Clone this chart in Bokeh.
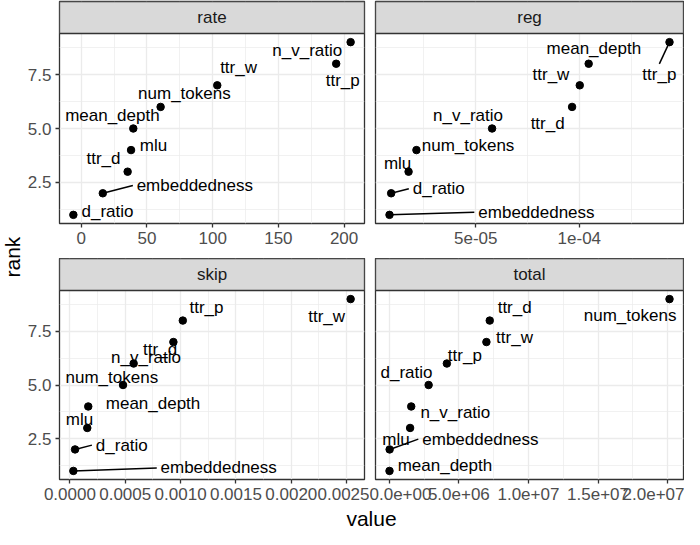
import math
from bokeh.plotting import figure
from bokeh.models import Range1d, FixedTicker
from bokeh.layouts import row, column
from bokeh.embed import file_html
from bokeh.resources import INLINE
from bokeh.core.properties import value

FONT = "Liberation Sans"

# ---------------- data (ordered by rank 1..9 in each facet) ----------------
rate_names = ["d_ratio", "embeddedness", "ttr_d", "mlu", "mean_depth",
              "num_tokens", "ttr_w", "ttr_p", "n_v_ratio"]
rate_values = [-6.0, 16.4, 35.3, 37.9, 39.6, 60.4, 103.5, 194.0, 205.0]
rate_label_x = [20.0, 86.4, 16.9, 55.0, 23.7, 78.5, 119.7, 199.0, 172.0]
rate_label_y = [1.14, 2.36, 3.62, 4.23, 5.62, 6.62, 7.83, 7.21, 8.62]
rate_segments = ["embeddedness"]

reg_names = ["embeddedness", "d_ratio", "mlu", "num_tokens", "n_v_ratio",
             "ttr_d", "ttr_w", "mean_depth", "ttr_p"]
reg_values = [0.84e-5, 0.92e-5, 1.76e-5, 2.14e-5, 5.79e-5,
              9.65e-5, 10.02e-5, 10.45e-5, 14.35e-5]
reg_label_x = [7.93e-5, 3.22e-5, 1.23e-5, 4.63e-5, 4.63e-5,
               8.47e-5, 8.63e-5, 10.7e-5, 13.86e-5]
reg_label_y = [1.12, 2.21, 3.40, 4.23, 5.62, 5.21, 7.49, 8.70, 7.49]
reg_segments = ["embeddedness", "d_ratio", "ttr_p"]

skip_names = ["embeddedness", "d_ratio", "mlu", "mean_depth", "num_tokens",
              "n_v_ratio", "ttr_d", "ttr_p", "ttr_w"]
skip_values = [0.0000314, 0.0000467, 0.000157, 0.000166, 0.00048,
               0.000576, 0.000935, 0.00102, 0.002536]
skip_label_x = [0.001344, 0.000469, 0.0000871, 0.000751, 0.000379,
                0.000688, 0.000815, 0.001234, 0.002319]
skip_label_y = [1.14, 2.20, 3.41, 4.12, 5.33, 6.27, 6.65, 8.62, 8.21]
skip_segments = ["embeddedness", "d_ratio"]

total_names = ["mean_depth", "embeddedness", "mlu", "n_v_ratio", "d_ratio",
               "ttr_p", "ttr_w", "ttr_d", "num_tokens"]
total_values = [2.0e4, 3.0e4, 1.50e6, 1.58e6, 2.83e6,
                4.14e6, 6.98e6, 7.22e6, 20.13e6]
total_label_x = [4.0e6, 6.55e6, 0.49e6, 4.75e6, 1.24e6,
                 5.43e6, 9.0e6, 9.01e6, 17.3e6]
total_label_y = [1.24, 2.48, 2.48, 3.71, 5.60, 6.39, 7.23, 8.59, 8.24]
total_segments = ["embeddedness"]

y_ticks = [2.5, 5.0, 7.5]
y_minor = [1.25, 3.75, 6.25, 8.75]
y_tick_labels = ["2.5", "5.0", "7.5"]

rate_ticks = [0, 50, 100, 150, 200]
rate_minor = [25, 75, 125, 175]
rate_tick_labels = ["0", "50", "100", "150", "200"]

reg_ticks = [5e-05, 1e-04]
reg_minor = [2.5e-05, 7.5e-05, 1.25e-04]
reg_tick_labels = ["5e-05", "1e-04"]

skip_ticks = [0.0, 0.0005, 0.001, 0.0015, 0.002, 0.0025]
skip_minor = [0.00025, 0.00075, 0.00125, 0.00175, 0.00225]
skip_tick_labels = ["0.0000", "0.0005", "0.0010", "0.0015", "0.0020", "0.0025"]

total_ticks = [0.0, 5e6, 1e7, 1.5e7, 2e7]
total_minor = [2.5e6, 7.5e6, 1.25e7, 1.75e7]
total_tick_labels = ["0.0e+00", "5.0e+06", "1.0e+07", "1.5e+07", "2.0e+07"]

# ---------------- styling ----------------
STRIP_H = 32
LABEL_PX = 17
TICK_PX = "17px"
GRID = "#EBEBEB"
DARK = "#333333"

ADV = {"a": 556, "b": 556, "c": 500, "d": 556, "e": 556, "h": 556, "i": 222,
       "k": 500, "l": 222, "m": 833, "n": 556, "o": 556, "p": 556, "r": 333,
       "s": 500, "t": 278, "u": 556, "v": 500, "w": 722, "_": 556}


def text_w(s):
    return sum(ADV.get(c, 556) for c in s) / 1000.0 * LABEL_PX


def panel(strip, names, vals, lab_x, lab_y, seg_names, ticks, minor, tick_labels,
          show_y, mb_left, frame_w, mb_right, mb_top, frame_h, mb_bottom):
    ranks = list(range(1, len(vals) + 1))
    xr = max(vals) - min(vals)
    x0, x1 = min(vals) - 0.05 * xr, max(vals) + 0.05 * xr
    rr = max(ranks) - min(ranks)
    y0, y1 = min(ranks) - 0.05 * rr, max(ranks) + 0.05 * rr
    panel_h = frame_h - STRIP_H
    sx = frame_w / (x1 - x0)
    sy = panel_h / (y1 - y0)
    y_top = y1 + STRIP_H / sy

    p = figure(width=mb_left + frame_w + mb_right,
               height=mb_top + frame_h + mb_bottom,
               x_range=Range1d(x0, x1), y_range=Range1d(y0, y_top),
               output_backend="svg", toolbar_location=None,
               min_border_left=mb_left, min_border_right=mb_right,
               min_border_top=mb_top, min_border_bottom=mb_bottom)
    p.background_fill_color = "white"
    p.border_fill_color = "white"
    p.outline_line_color = DARK
    p.outline_line_width = 1.3

    xt = FixedTicker(ticks=ticks, minor_ticks=minor)
    yt = FixedTicker(ticks=y_ticks, minor_ticks=y_minor)
    p.xaxis.ticker = xt
    p.yaxis.ticker = yt
    p.xgrid.ticker = xt
    p.ygrid.ticker = yt
    for g in (p.xgrid, p.ygrid):
        g.grid_line_color = GRID
        g.grid_line_width = 1.3
        g.minor_grid_line_color = GRID
        g.minor_grid_line_width = 0.7

    p.xaxis.major_label_overrides = {t: l for t, l in zip(ticks, tick_labels)}
    p.yaxis.major_label_overrides = {t: l for t, l in zip(y_ticks, y_tick_labels)}
    for ax in (p.xaxis, p.yaxis):
        ax.axis_line_color = None
        ax.major_tick_line_color = DARK
        ax.major_tick_line_width = 1.3
        ax.major_tick_out = 4
        ax.major_tick_in = 0
        ax.minor_tick_out = 0
        ax.minor_tick_in = 0
        ax.major_label_text_font = FONT
        ax.major_label_text_font_size = TICK_PX
        ax.major_label_text_color = "#4D4D4D"
        ax.major_label_standoff = 4
    if not show_y:
        p.yaxis.visible = False

    # strip
    p.quad(left=[x0], right=[x1], bottom=[y1], top=[y_top],
           fill_color="#D9D9D9", line_color=DARK, line_width=1.3)
    p.text(x=[(x0 + x1) / 2], y=[(y1 + y_top) / 2], text=[strip],
           text_font=value(FONT), text_font_size="17px", text_color="#1A1A1A",
           text_align="center", text_baseline="middle")

    # repel segments from point to nearest side of the label box
    sx0, sy0, sx1, sy1 = [], [], [], []
    for n, v, r, lx, ly in zip(names, vals, ranks, lab_x, lab_y):
        if n not in seg_names:
            continue
        dx = (lx - v) * sx
        dy = (ly - r) * sy
        hw = text_w(n) / 2 + 4
        hh = LABEL_PX * 0.4 + 4
        if abs(dx) / hw >= abs(dy) / hh:
            ex = lx - math.copysign(hw, dx) / sx
            ey = ly
        else:
            ex = lx
            ey = ly - math.copysign(hh, dy) / sy
        sx0.append(v); sy0.append(r); sx1.append(ex); sy1.append(ey)
    if sx0:
        p.segment(x0=sx0, y0=sy0, x1=sx1, y1=sy1, line_color="black",
                  line_width=1.5)

    p.scatter(x=vals, y=ranks, size=7.5, fill_color="black", line_color="black")
    p.text(x=lab_x, y=lab_y, text=names, text_font=value(FONT),
           text_font_size=f"{LABEL_PX}px", text_color="black",
           text_align="center", text_baseline="middle")
    return p


LEFT_W = 24
p_rate = panel("rate", rate_names, rate_values, rate_label_x, rate_label_y,
               rate_segments, rate_ticks, rate_minor, rate_tick_labels,
               True, 34, 306, 5, 1, 222, 35)
p_reg = panel("reg", reg_names, reg_values, reg_label_x, reg_label_y,
              reg_segments, reg_ticks, reg_minor, reg_tick_labels,
              False, 6, 308, 1, 1, 222, 35)
p_skip = panel("skip", skip_names, skip_values, skip_label_x, skip_label_y,
               skip_segments, skip_ticks, skip_minor, skip_tick_labels,
               True, 34, 306, 5, 0, 221, 28)
p_total = panel("total", total_names, total_values, total_label_x, total_label_y,
                total_segments, total_ticks, total_minor, total_tick_labels,
                False, 6, 308, 1, 0, 221, 28)


def blank(w, h):
    f = figure(width=w, height=h, x_range=Range1d(0, 1), y_range=Range1d(0, 1),
               output_backend="svg", toolbar_location=None, min_border=0)
    f.axis.visible = False
    f.grid.visible = False
    f.outline_line_color = None
    return f


rank_fig = blank(LEFT_W, 529)
rank_fig.text(x=[0.5], y=[0.515], text=["rank"], angle=math.pi / 2,
              text_font=value(FONT), text_font_size="21px", text_color="black",
              text_align="center", text_baseline="middle")

value_fig = blank(660, 22)
value_fig.text(x=[0.5258], y=[0.5], text=["value"], text_font=value(FONT),
               text_font_size="21px", text_color="black",
               text_align="center", text_baseline="middle")

layout = row(rank_fig, column(row(p_rate, p_reg), row(p_skip, p_total), value_fig))

open("out.html", "w").write(file_html(layout, INLINE))
